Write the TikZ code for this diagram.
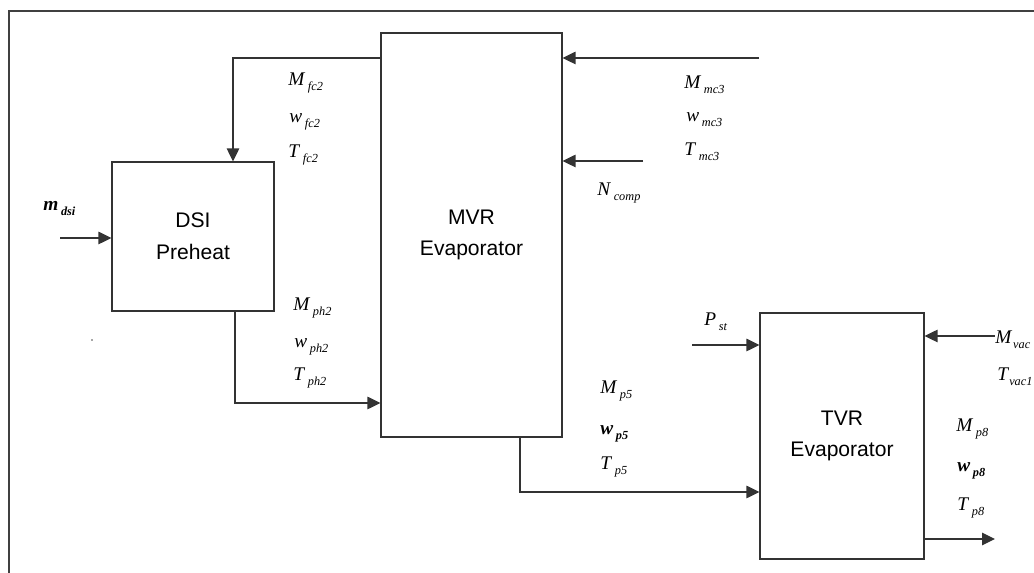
\documentclass[tikz,border=0pt]{standalone}
\usepackage{fontspec}
\setmainfont{Liberation Serif}
\newfontfamily\arial{Liberation Sans}
\usepackage{tikz}
\usetikzlibrary{arrows.meta,positioning}
\newcommand{\jel}[3][1.5pt]{\textit{#2}\kern#1\raisebox{-0.55ex}{\fontsize{7}{8}\selectfont\textit{#3}}}
\newcommand{\jelb}[2]{{\bfseries\jel{#1}{#2}}}
\tikzset{
  egyseg/.style={draw=black!80,line width=0.7pt,align=center,inner sep=0pt,
    font=\arial\fontsize{12}{18}\selectfont},
  nyil/.style={draw=black!80,line width=0.7pt,-{Triangle[length=2.6mm,width=2.5mm]}},
  cimke/.style={anchor=base west,inner sep=0pt,font=\fontsize{11}{13}\selectfont},
}

\begin{document}
\begin{tikzpicture}[x=0.02cm,y=-0.02cm]
  \useasboundingbox (0,0) rectangle (1034,573);
  \draw[black!75,line width=0.8pt] (9,573) -- (9,11) -- (1034,11);
  \fill[black!70] (92,340) circle (0.8);
  % units
  \node[egyseg,minimum width=3.24cm,minimum height=2.98cm] (dsi) at (193,236.5) {DSI\\Preheat};
  \node[egyseg,minimum width=3.62cm,minimum height=8.08cm] (mvr) at (471.5,235) {MVR\\Evaporator};
  \node[egyseg,minimum width=3.28cm,minimum height=4.92cm] (tvr) at (842,436) {TVR\\Evaporator};
  % stream points
  \coordinate (fcKnee) at (233,58);
  \coordinate (dsiIn) at (60,238);
  \coordinate (phKnee) at (235,403);
  \coordinate (mcIn) at (759,58);
  \coordinate (compIn) at (643,161);
  \coordinate (p5Knee) at (520,492);
  \coordinate (stIn) at (692,345);
  \coordinate (vacIn) at (995,336);
  \coordinate (p8Out) at (995,539);
  % streams
  \draw[nyil] (mvr.west |- fcKnee) -- (fcKnee) -- (dsi.north -| fcKnee);
  \draw[nyil] (dsiIn) -- (dsiIn -| dsi.west);
  \draw[nyil] (dsi.south -| phKnee) -- (phKnee) -- (phKnee -| mvr.west);
  \draw[nyil] (mcIn) -- (mcIn -| mvr.east);
  \draw[nyil] (compIn) -- (compIn -| mvr.east);
  \draw[nyil] (mvr.south -| p5Knee) -- (p5Knee) -- (p5Knee -| tvr.west);
  \draw[nyil] (stIn) -- (stIn -| tvr.west);
  \draw[nyil] (vacIn) -- (vacIn -| tvr.east);
  \draw[nyil] (p8Out -| tvr.east) -- (p8Out);
  % labels
  \node[cimke] (mdsi) at (43,211) {\jelb{m}{dsi}};
  \node[cimke] (mfc) at (288,86) {\jel{M}{fc2}};
  \node[cimke] (wfc) at (289,123) {\jel{w}{fc2}};
  \node[cimke] (tfc) at (288,158) {\jel{T}{fc2}};
  \node[cimke] (mph) at (293,311) {\jel{M}{ph2}};
  \node[cimke] (wph) at (294,348) {\jel{w}{ph2}};
  \node[cimke] (tph) at (293,381) {\jel{T}{ph2}};
  \node[cimke] (mmc) at (684,89) {\jel{M}{mc3}};
  \node[cimke] (wmc) at (686,122) {\jel{w}{mc3}};
  \node[cimke] (tmc) at (684,156) {\jel{T}{mc3}};
  \node[cimke] (ncomp) at (597,196) {\jel{N}{comp}};
  \node[cimke] (pst) at (704,326) {\jel{P}{st}};
  \node[cimke] (mp5) at (600,394) {\jel{M}{p5}};
  \node[cimke] (wp5) at (600,435) {\jelb{w}{p5}};
  \node[cimke] (tp5) at (600,470) {\jel{T}{p5}};
  \node[cimke] (mvac) at (995,344) {\jel[0.5pt]{M}{vac}};
  \node[cimke] (tvac) at (997,381) {\jel[0pt]{T}{vac1}};
  \node[cimke] (mp8) at (956,432) {\jel{M}{p8}};
  \node[cimke] (wp8) at (957,472) {\jelb{w}{p8}};
  \node[cimke] (tp8) at (957,511) {\jel{T}{p8}};
\end{tikzpicture}
\end{document}
